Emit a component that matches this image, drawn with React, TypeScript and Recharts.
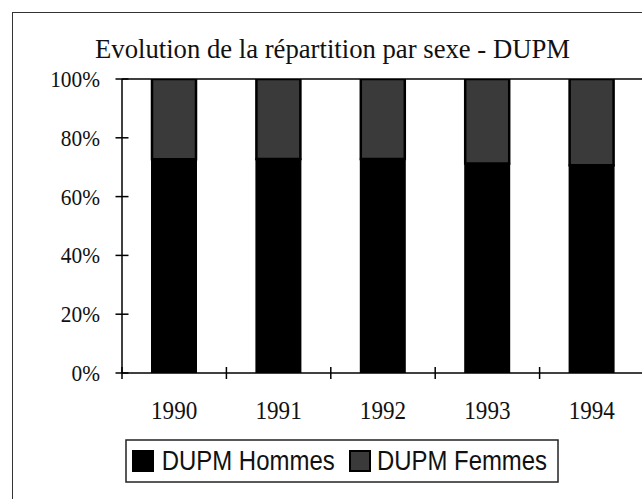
import React from "react";
import { BarChart, Bar, XAxis, YAxis, ReferenceLine } from "recharts";

const years = ["1990", "1991", "1992", "1993", "1994"];
const hommes = [72.7, 72.8, 72.8, 71.3, 70.7];
const femmes = [27.3, 27.2, 27.2, 28.7, 29.3];
const yTicks = [0, 20, 40, 60, 80, 100];
const seriesNames = ["DUPM Hommes", "DUPM Femmes"];
const seriesColors = ["#000000", "#3a3a3a"];

const data = years.map((year, i) => ({ year, hommes: hommes[i], femmes: femmes[i] }));

const SERIF = "'Liberation Serif', 'Times New Roman', serif";
const SANS = "'Liberation Sans', Arial, sans-serif";

// plot box in page pixels
const PLOT_LEFT = 122;
const PLOT_RIGHT = 644;
const PLOT_TOP = 79;
const PLOT_BOTTOM = 373;
const CHART_W = 700;
const CHART_H = 499;
const BAND = (PLOT_RIGHT - PLOT_LEFT) / years.length;
const SQUEEZE = 0.89; // the scan is a bit narrow horizontally

const YTick = (props: any) => {
  const { y, payload } = props;
  const label = `${payload.value}%`;
  const fs = 24;
  const natural = ((label.length - 1) * 0.5 + 0.833) * fs;
  return (
    <g>
      <line x1={PLOT_LEFT - 6.5} x2={PLOT_LEFT + 6.5} y1={y} y2={y} stroke="#000" strokeWidth={1.5} />
      <text
        x={100}
        y={y}
        textAnchor="end"
        dominantBaseline="central"
        fontFamily={SERIF}
        fontSize={fs}
        fill="#111"
        textLength={natural * SQUEEZE}
        lengthAdjust="spacingAndGlyphs"
      >
        {label}
      </text>
    </g>
  );
};

const XTick = (props: any) => {
  const { x, payload } = props;
  const half = payload.offset || BAND / 2;
  const fs = 26;
  return (
    <g>
      <line x1={x - half} x2={x - half} y1={PLOT_BOTTOM - 6} y2={PLOT_BOTTOM + 6} stroke="#000" strokeWidth={1.5} />
      <text
        x={x}
        y={PLOT_BOTTOM + 46}
        textAnchor="middle"
        fontFamily={SERIF}
        fontSize={fs}
        fill="#111"
        textLength={String(payload.value).length * 0.5 * fs * SQUEEZE}
        lengthAdjust="spacingAndGlyphs"
      >
        {payload.value}
      </text>
    </g>
  );
};

const legendItems = [
  { box: 133, text: 161.7, width: 173 },
  { box: 350, text: 377, width: 170 },
];

function Legend() {
  return (
    <svg style={{ position: "absolute", left: 0, top: 0 }} width={642} height={499}>
      <rect x={126} y={440} width={432} height={42} fill="#fff" stroke="#222" strokeWidth={1.5} />
      {seriesNames.map((name, i) => (
        <g key={name}>
          <rect
            x={legendItems[i].box}
            y={451}
            width={20}
            height={20}
            fill={seriesColors[i]}
            stroke="#000"
            strokeWidth={2}
          />
          <text
            x={legendItems[i].text}
            y={470}
            fontFamily={SANS}
            fontSize={27}
            fill="#111"
            textLength={legendItems[i].width}
            lengthAdjust="spacingAndGlyphs"
          >
            {name}
          </text>
        </g>
      ))}
    </svg>
  );
}

export default function App() {
  return (
    <div style={{ position: "fixed", left: 0, top: 0, width: 642, height: 499, overflow: "hidden", background: "#fff" }}>
      <div
        style={{
          position: "absolute",
          left: 12,
          top: 12,
          width: 700,
          height: 600,
          border: "1.5px solid #333",
        }}
      />
      <svg style={{ position: "absolute", left: 0, top: 0 }} width={642} height={80}>
        <text x={332.5} y={58} textAnchor="middle" fontFamily={SERIF} fontSize={27.5} fill="#111" textLength={475} lengthAdjust="spacingAndGlyphs">
          Evolution de la répartition par sexe - DUPM
        </text>
      </svg>
      <div style={{ position: "absolute", left: 0, top: 0 }}>
        <BarChart
          width={CHART_W}
          height={CHART_H}
          data={data}
          margin={{ top: PLOT_TOP, right: CHART_W - PLOT_RIGHT, bottom: CHART_H - PLOT_BOTTOM - 60, left: 0 }}
        >
          <XAxis
            dataKey="year"
            height={60}
            axisLine={{ stroke: "#000", strokeWidth: 1.5 }}
            tickLine={false}
            tick={<XTick />}
            interval={0}
          />
          <YAxis
            width={PLOT_LEFT}
            domain={[0, 100]}
            ticks={yTicks}
            axisLine={{ stroke: "#000", strokeWidth: 1.5 }}
            tickLine={false}
            tick={<YTick />}
            allowDataOverflow
          />
          <ReferenceLine y={100} stroke="#000" strokeWidth={1.5} />
          <Bar dataKey="hommes" name={seriesNames[0]} stackId="a" barSize={44} fill={seriesColors[0]} stroke="#000" strokeWidth={2} isAnimationActive={false} />
          <Bar dataKey="femmes" name={seriesNames[1]} stackId="a" barSize={44} fill={seriesColors[1]} stroke="#000" strokeWidth={2.5} isAnimationActive={false} />
        </BarChart>
      </div>
      <Legend />
    </div>
  );
}
